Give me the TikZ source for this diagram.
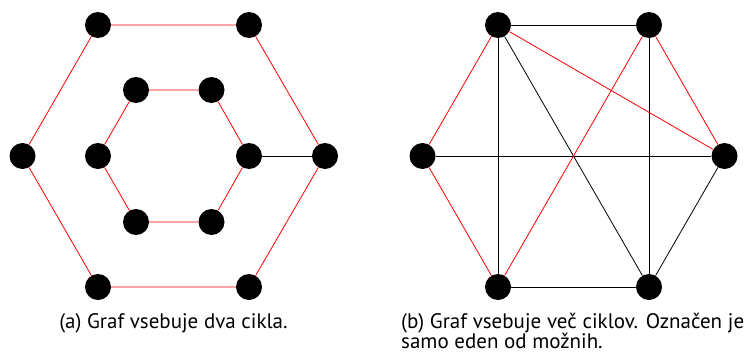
\documentclass[tikz,border=0pt]{standalone}
\usepackage{fontspec}
\setmainfont{PT Sans}
\begin{document}
\begin{tikzpicture}[x=1pt,y=-1pt,
  vtx/.style={circle,fill=black,inner sep=0pt,minimum size=26pt},
  red edge/.style={draw=red,line width=0.8pt},
  blk edge/.style={draw=black,line width=0.8pt},
  captxt/.style={font=\fontsize{21}{22}\selectfont,inner sep=0pt}]
\useasboundingbox (0,0) rectangle (746,356);
% left graph
\node[vtx] (o1) at (98,25) {};
\node[vtx] (o2) at (249,25) {};
\node[vtx] (o3) at (325,156) {};
\node[vtx] (o4) at (249,287) {};
\node[vtx] (o5) at (98,287) {};
\node[vtx] (o6) at (22.5,156) {};
\node[vtx] (i1) at (136,90) {};
\node[vtx] (i2) at (211.5,90) {};
\node[vtx] (i3) at (249,156) {};
\node[vtx] (i4) at (211.5,222) {};
\node[vtx] (i5) at (136,222) {};
\node[vtx] (i6) at (98,156) {};
\path[red edge] (o1) -- (o2) -- (o3) -- (o4) -- (o5) -- (o6) -- (o1);
\path[red edge] (i1) -- (i2) -- (i3) -- (i4) -- (i5) -- (i6) -- (i1);
\path[blk edge] (i3) -- (o3);
% right graph
\node[vtx] (a) at (498,25) {};
\node[vtx] (b) at (649,25) {};
\node[vtx] (c) at (724.5,156) {};
\node[vtx] (d) at (649,287) {};
\node[vtx] (e) at (498,287) {};
\node[vtx] (f) at (422.5,156) {};
\path[blk edge] (a) -- (b);
\path[blk edge] (a) -- (e);
\path[blk edge] (b) -- (d);
\path[blk edge] (f) -- (c);
\path[blk edge] (e) -- (d);
\path[blk edge] (a) -- (d);
\path[blk edge] (c) -- (d);
\path[red edge] (f) -- (a);
\path[red edge] (a) -- (c);
\path[red edge] (c) -- (b);
\path[red edge] (b) -- (e);
\path[red edge] (e) -- (f);
% captions
\node[captxt,anchor=base] (capa) at (173.5,328) {(a) Graf vsebuje dva cikla.};
\node[captxt,anchor=base west] (capb1) at (401,328) {\makebox[343pt][s]{(b) Graf vsebuje več ciklov. Označen je}};
\node[captxt,anchor=base west] (capb2) at (401,348) {samo eden od možnih.};
\end{tikzpicture}
\end{document}
